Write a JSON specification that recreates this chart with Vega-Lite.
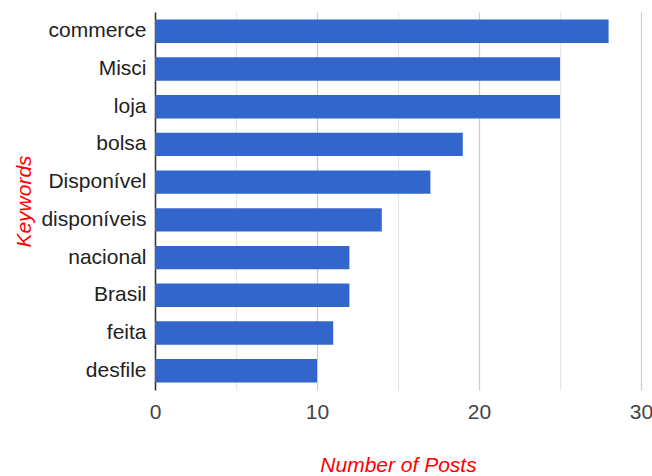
{
  "$schema": "https://vega.github.io/schema/vega-lite/v6.json",
  "autosize": {"type": "none"},
  "padding": {"left": 155, "top": 12, "right": 11, "bottom": 86},
  "width": 486,
  "height": 378,
  "background": "white",
  "config": {"view": {"stroke": null}, "font": "Liberation Sans"},
  "data": {
    "values": [
      {"keyword": "commerce", "posts": 28},
      {"keyword": "Misci", "posts": 25},
      {"keyword": "loja", "posts": 25},
      {"keyword": "bolsa", "posts": 19},
      {"keyword": "Disponível", "posts": 17},
      {"keyword": "disponíveis", "posts": 14},
      {"keyword": "nacional", "posts": 12},
      {"keyword": "Brasil", "posts": 12},
      {"keyword": "feita", "posts": 11},
      {"keyword": "desfile", "posts": 10}
    ]
  },
  "mark": {"type": "bar", "color": "#3366CC"},
  "encoding": {
    "y": {
      "field": "keyword",
      "type": "nominal",
      "sort": null,
      "scale": {"paddingInner": 0.38, "paddingOuter": 0.2},
      "axis": {
        "title": "Keywords",
        "titleColor": "#ff0000",
        "titleFontStyle": "italic",
        "titleFontWeight": "normal",
        "titleFontSize": 21,
        "titleFont": "Liberation Sans",
        "titleX": -121,
        "titleY": 189,
        "labelFontSize": 21,
        "labelColor": "#222222",
        "labelFont": "Liberation Sans",
        "labelPadding": 9,
        "ticks": false,
        "domainColor": "#333333",
        "domainWidth": 1.5,
        "grid": false
      }
    },
    "x": {
      "field": "posts",
      "type": "quantitative",
      "scale": {"domain": [0, 30], "nice": false},
      "axis": {
        "title": "Number of Posts",
        "titleColor": "#ff0000",
        "titleFontStyle": "italic",
        "titleFontWeight": "normal",
        "titleFontSize": 21,
        "titleFont": "Liberation Sans",
        "titleBaseline": "alphabetic",
        "titleY": 81,
        "values": [0, 5, 10, 15, 20, 25, 30],
        "labelExpr": "datum.value % 10 === 0 ? datum.label : ''",
        "labelFlush": false,
        "labelOverlap": false,
        "labelFontSize": 21,
        "labelColor": "#444444",
        "labelFont": "Liberation Sans",
        "labelPadding": 11,
        "ticks": false,
        "domain": false,
        "grid": true,
        "gridColor": {"condition": {"test": "datum.value % 10 === 0", "value": "#cccccc"}, "value": "#e6e6e6"},
        "gridOpacity": 1,
        "gridWidth": 1.2
      }
    }
  }
}
